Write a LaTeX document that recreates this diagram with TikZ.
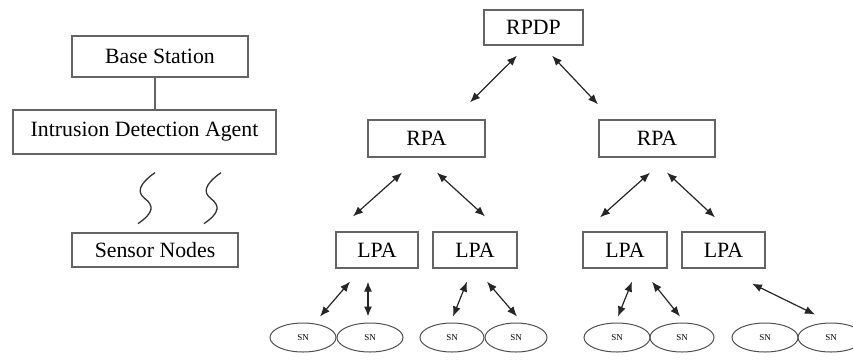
\documentclass[tikz,border=0pt]{standalone}
\usepackage{fontspec}
\setmainfont{Liberation Serif}
\usepackage{tikz}
\usetikzlibrary{arrows.meta,calc,shapes.geometric}
\definecolor{trait}{RGB}{100,100,100}

\begin{document}
\begin{tikzpicture}[
    x=1pt,y=-1pt,
    box/.style={draw=trait,line width=1.3pt,align=center,inner sep=0pt,font=\fontsize{21.8}{24}\selectfont},
    sn/.style={ellipse,draw=trait!80!black,line width=1pt,minimum width=66pt,minimum height=29pt,inner sep=0pt,font=\fontsize{9}{10}\selectfont},
    line/.style={{Latex[length=10pt,width=8pt]}-{Latex[length=10pt,width=8pt]},line width=1.2pt,black!85},
    link/.style={draw=trait,line width=1.3pt},
    wave/.style={black!80,line width=1.3pt}
]
    \useasboundingbox (0,0) rectangle (853,360);

    % left part
    \node[box,minimum width=176pt,minimum height=41pt] (base) at (160,56.5) {Base Station};
    \node[box,minimum width=263pt,minimum height=44pt] (ida) at (144.5,132) {Intrusion Detection Agent};
    \node[box,minimum width=166pt,minimum height=34pt] (sensor) at (155,250) {Sensor Nodes};

    \coordinate (bs) at ($(base.south)+(-5,0)$);
    \draw[link] (bs) -- (bs |- ida.north);
    \foreach \dx in {0,66}{
        \begin{scope}[shift={($(ida.south)+(\dx,0)$)}]
            \draw[wave] (10.5,18) .. controls (-6.5,30) and (-7.5,38) .. (0.5,44)
                                  .. controls (9.5,51) and (9.5,58) .. (-6.5,69);
        \end{scope}
    }

    % right part
    \node[box,minimum width=99pt,minimum height=35pt] (rpdp) at (533.5,27.5) {RPDP};
    \node[box,minimum width=117pt,minimum height=37pt] (rpaL) at (426.5,138.5) {RPA};
    \node[box,minimum width=116pt,minimum height=37pt] (rpaR) at (657,138.5) {RPA};

    \node[box,minimum width=82pt,minimum height=36pt] (lpa1) at (377,250) {LPA};
    \node[box,minimum width=84pt,minimum height=36pt] (lpa2) at (475,250) {LPA};
    \node[box,minimum width=84pt,minimum height=36pt] (lpa3) at (625,250) {LPA};
    \node[box,minimum width=83pt,minimum height=36pt] (lpa4) at (723.5,250) {LPA};

    \node[sn] (sn1) at (303,337.5) {SN};
    \node[sn] (sn2) at (370,337.5) {SN};
    \node[sn,minimum width=64pt] (sn3) at (452,337.5) {SN};
    \node[sn,minimum width=62pt] (sn4) at (516,337.5) {SN};
    \node[sn] (sn5) at (617,337.5) {SN};
    \node[sn,minimum width=64pt] (sn6) at (682,337.5) {SN};
    \node[sn] (sn7) at (765,337.5) {SN};
    \node[sn] (sn8) at (831,337.5) {SN};

    \draw[line] ($(rpdp.south)+(-16.5,10)$) -- ($(rpaL.north)+(43.5,-17)$);
    \draw[line] ($(rpdp.south)+(18.5,10)$) -- ($(rpaR.north)+(-59,-15)$);
    \draw[line] ($(rpaL.south)+(-24.5,15)$) -- ($(lpa1.north)+(-24,-15)$);
    \draw[line] ($(rpaL.south)+(10.5,15)$) -- ($(lpa2.north)+(10,-15)$);
    \draw[line] ($(rpaR.south)+(-7,15)$) -- ($(lpa3.north)+(-25,-14)$);
    \draw[line] ($(rpaR.south)+(10,15)$) -- ($(lpa4.north)+(-8.5,-14)$);
    \draw[line] ($(lpa1.south)+(-27,13)$) -- ($(sn1.north)+(17,-6)$);
    \draw[line] ($(lpa1.south)+(-9,13)$) -- ($(sn2.north)+(-2,-6)$);
    \draw[line] ($(lpa2.south)+(-8,13)$) -- ($(sn3.north)+(1,-6)$);
    \draw[line] ($(lpa2.south)+(12,13)$) -- ($(sn4.north)+(1,-6)$);
    \draw[line] ($(lpa3.south)+(7,13)$) -- ($(sn5.north)+(1,-6)$);
    \draw[line] ($(lpa3.south)+(27,13)$) -- ($(sn6.north)+(-2,-6)$);
    \draw[line] ($(lpa4.south)+(28.5,15)$) -- ($(sn8.north)+(-16,-8)$);
\end{tikzpicture}
\end{document}
